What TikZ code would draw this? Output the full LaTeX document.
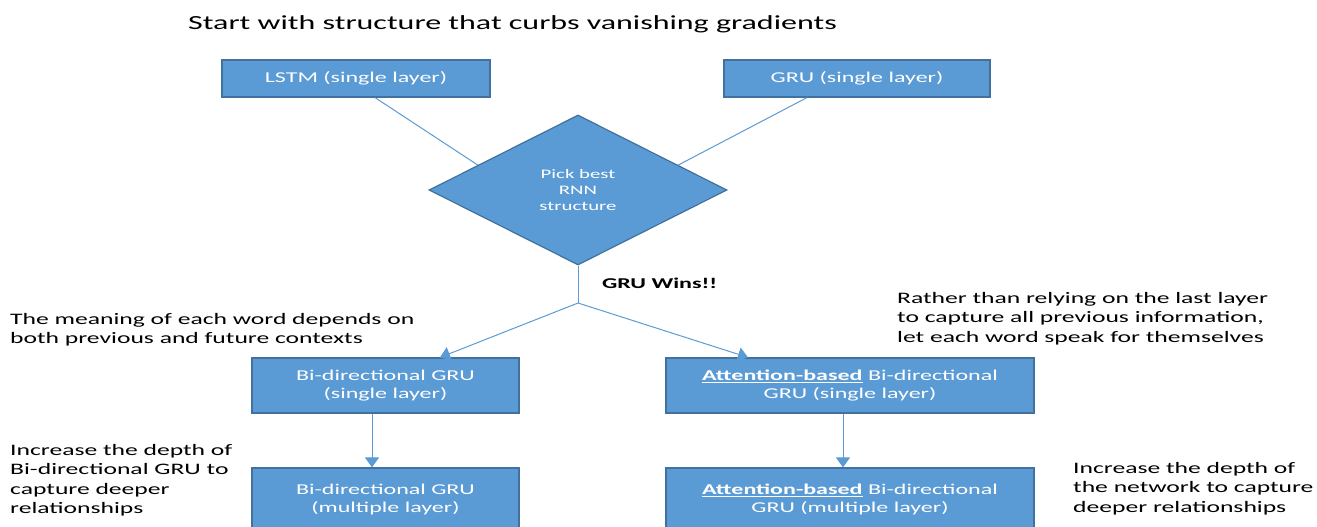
\documentclass[tikz,border=0pt]{standalone}
\usepackage{fontspec}
\setmainfont{Carlito}[FakeStretch=1.6]
\usetikzlibrary{shapes.geometric,arrows.meta,calc}
\definecolor{boxblue}{HTML}{5B9BD5}
\definecolor{boxedge}{HTML}{41719C}
\definecolor{lineblue}{HTML}{5B9BD5}
\begin{document}
\begin{tikzpicture}[x=1pt,y=-1pt,
  box/.style={draw=boxedge, line width=1.2pt, fill=boxblue, text=white,
    font=\fontsize{15}{18}\selectfont, align=center, inner sep=0pt},
  conn/.style={draw=lineblue, line width=1pt},
  arr/.style={conn, -{Triangle[width=14pt,length=10pt]}},
  note/.style={font=\fontsize{16}{19.5}\selectfont, align=left, anchor=north west, inner sep=0pt},
  title/.style={font=\fontsize{20}{22}\selectfont, anchor=base west, inner sep=0pt}]
\useasboundingbox (0,0) rectangle (1317,527);
\node[title] (ttl) at (188,30) {Start with structure that curbs vanishing gradients};
\node[box, minimum width=268pt, minimum height=37pt] (lstm) at (356,78.5) {LSTM (single layer)};
\node[box, minimum width=266pt, minimum height=37pt] (gru) at (857,78.5) {GRU (single layer)};
\node[box, shape=diamond, minimum width=298pt, minimum height=150pt,
  font=\fontsize{13}{16}\selectfont] (dia) at (578,190) {Pick best\\RNN\\structure};
\coordinate (lin) at ($(dia.west)!0.33!(dia.north)$);
\coordinate (rin) at ($(dia.east)!0.33!(dia.north)$);
\draw[conn] ($(lstm.south)+(19,0)$) -- (lin);
\draw[conn] ($(gru.south)+(-50,0)$) -- (rin);
\node[font=\fontsize{15}{18}\selectfont\bfseries, anchor=west, inner sep=0pt] (wins) at (602,283) {GRU Wins!!};
\coordinate (br) at (578,303);
\node[box, minimum width=267pt, minimum height=55pt] (bi1) at (385.5,385.5) {Bi-directional GRU\\(single layer)};
\node[box, minimum width=368pt, minimum height=55pt] (at1) at (850,385.5) {\underline{\textbf{Attention-based}} Bi-directional\\GRU (single layer)};
\node[box, minimum width=267pt, minimum height=63pt] (bi2) at (385.5,499.5) {Bi-directional GRU\\(multiple layer)};
\node[box, minimum width=368pt, minimum height=63pt] (at2) at (850,499.5) {\underline{\textbf{Attention-based}} Bi-directional\\GRU (multiple layer)};
\draw[conn] (dia.south) -- (br);
\draw[arr] (br) -- (bi1.north -| 440,0);
\draw[arr] (br) -- (at1.north -| 748,0);
\draw[arr] (bi1.south -| 372,0) -- (bi2.north -| 372,0);
\draw[arr] (at1.south -| 843,0) -- (at2.north -| 843,0);
\node[note] (n1) at (10,313) {The meaning of each word depends on\\both previous and future contexts};
\node[note] (n2) at (897,292) {Rather than relying on the last layer\\to capture all previous information,\\let each word speak for themselves};
\node[note] (n3) at (10,444) {Increase the depth of\\Bi-directional GRU to\\capture deeper\\relationships};
\node[note] (n4) at (1073,462) {Increase the depth of\\the network to capture\\deeper relationships};
\end{tikzpicture}
\end{document}
